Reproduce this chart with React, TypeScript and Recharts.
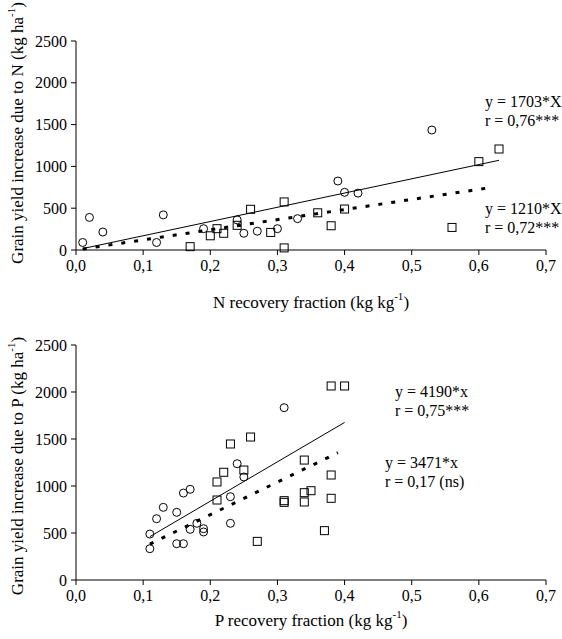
import React from 'react';
import { ScatterChart, Scatter, XAxis, YAxis, ReferenceLine } from 'recharts';

const FONT = '"Liberation Serif", "Times New Roman", serif';

// N panel
const nCircleX = [0.01, 0.02, 0.04, 0.12, 0.13, 0.19, 0.24, 0.25, 0.27, 0.30, 0.33, 0.39, 0.40, 0.42, 0.53];
const nCircleY = [90, 390, 215, 90, 420, 255, 360, 200, 225, 255, 375, 825, 690, 680, 1435];
const nSquareX = [0.17, 0.20, 0.21, 0.22, 0.24, 0.26, 0.29, 0.31, 0.31, 0.36, 0.38, 0.40, 0.56, 0.60, 0.63];
const nSquareY = [40, 170, 255, 200, 295, 487, 210, 575, 25, 445, 290, 490, 270, 1057, 1208];
const nSolidFit = [{ x: 0.01, y: 17 }, { x: 0.63, y: 1073 }];
const nDashFit = [{ x: 0.01, y: 12 }, { x: 0.62, y: 750 }];

// P panel
const pCircleX = [0.11, 0.11, 0.12, 0.13, 0.15, 0.15, 0.16, 0.16, 0.17, 0.17, 0.18, 0.19, 0.19, 0.23, 0.23, 0.24, 0.25, 0.31];
const pCircleY = [489, 333, 652, 773, 720, 386, 386, 925, 965, 539, 603, 546, 511, 886, 603, 1237, 1096, 1833];
const pSquareX = [0.21, 0.21, 0.22, 0.23, 0.25, 0.26, 0.27, 0.31, 0.31, 0.34, 0.34, 0.34, 0.35, 0.37, 0.38, 0.38, 0.38, 0.40];
const pSquareY = [1043, 851, 1146, 1447, 1170, 1521, 411, 844, 826, 1276, 929, 830, 950, 525, 1117, 869, 2064, 2064];
const pSolidFit = [{ x: 0.11, y: 461 }, { x: 0.40, y: 1676 }];
const pDashFit = [{ x: 0.11, y: 382 }, { x: 0.39, y: 1354 }];

const xTicks = [0, 0.1, 0.2, 0.3, 0.4, 0.5, 0.6, 0.7];
const yTicks = [0, 500, 1000, 1500, 2000, 2500];

const toPoints = (xs: number[], ys: number[]) => xs.map((x, i) => ({ x, y: ys[i] }));

const CircleMark = (p: any) => (
  <circle cx={p.cx} cy={p.cy} r={4} fill="none" stroke="#000" strokeWidth={1} />
);
const SquareMark = (p: any) => (
  <rect x={p.cx - 4} y={p.cy - 4} width={8} height={8} fill="none" stroke="#000" strokeWidth={1} />
);

const tickStyle = { fill: '#000', fontSize: 16, fontFamily: FONT };

interface PanelProps {
  nutrient: string;
  circles: { x: number; y: number }[];
  squares: { x: number; y: number }[];
  solid: { x: number; y: number }[];
  dashed: { x: number; y: number }[];
  height: number;
  top: number;
  plotHeight: number;
  titleGap: number;
  yTitleY: number;
}

function Panel({ nutrient, circles, squares, solid, dashed, height, top, plotHeight, titleGap, yTitleY }: PanelProps) {
  const yTitle = () => {
    const cx = 17;
    const cy = yTitleY;
    return (
      <text
        x={cx}
        y={cy}
        transform={`rotate(-90, ${cx}, ${cy})`}
        textAnchor="middle"
        dominantBaseline="central"
        fontSize={17}
        fontFamily={FONT}
        fill="#000"
      >
        Grain yield increase due to {nutrient} (kg ha<tspan baselineShift="super" fontSize={11}>-1</tspan>)
      </text>
    );
  };
  const xTitle = (props: any) => {
    const vb = props.viewBox;
    return (
      <text
        x={vb.x + vb.width / 2}
        y={vb.y + titleGap}
        textAnchor="middle"
        dominantBaseline="central"
        fontSize={17}
        fontFamily={FONT}
        fill="#000"
      >
        {nutrient} recovery fraction (kg kg<tspan baselineShift="super" fontSize={11}>-1</tspan>)
      </text>
    );
  };

  return (
    <ScatterChart width={562} height={height} margin={{ top, right: 16, bottom: 0, left: 0 }}>
      <XAxis
        type="number"
        dataKey="x"
        domain={[0, 0.7]}
        ticks={xTicks}
        tickFormatter={(v: number) => v.toFixed(1).replace('.', ',')}
        axisLine={{ stroke: '#000' }}
        tickLine={{ stroke: '#000' }}
        tickSize={5}
        tickMargin={5}
        tick={tickStyle}
        height={height - top - plotHeight}
        label={{ content: xTitle }}
      />
      <YAxis
        type="number"
        dataKey="y"
        domain={[0, 2500]}
        ticks={yTicks}
        axisLine={{ stroke: '#000' }}
        tickLine={{ stroke: '#000' }}
        tickSize={5}
        tickMargin={4}
        tick={tickStyle}
        width={76}
        label={{ content: yTitle }}
      />
      <ReferenceLine segment={solid} stroke="#000" strokeWidth={1} ifOverflow="visible" />
      <ReferenceLine segment={dashed} stroke="#000" strokeWidth={3} strokeDasharray="4 9" ifOverflow="visible" />
      <Scatter data={circles} shape={CircleMark} isAnimationActive={false} />
      <Scatter data={squares} shape={SquareMark} isAnimationActive={false} />
    </ScatterChart>
  );
}

const noteStyle: React.CSSProperties = {
  position: 'absolute',
  fontFamily: FONT,
  fontSize: 16,
  lineHeight: '19px',
  color: '#000',
  whiteSpace: 'nowrap',
};

export default function App() {
  return (
    <div style={{ position: 'absolute', left: 0, top: 0, width: 562, height: 639, background: '#fff', fontFamily: FONT }}>
      <div style={{ position: 'absolute', left: 0, top: 0 }}>
        <Panel
          nutrient="N"
          circles={toPoints(nCircleX, nCircleY)}
          squares={toPoints(nSquareX, nSquareY)}
          solid={nSolidFit}
          dashed={nDashFit}
          height={320}
          top={41}
          plotHeight={209}
          titleGap={52}
          yTitleY={133}
        />
      </div>
      <div style={{ position: 'absolute', left: 0, top: 320 }}>
        <Panel
          nutrient="P"
          circles={toPoints(pCircleX, pCircleY)}
          squares={toPoints(pSquareX, pSquareY)}
          solid={pSolidFit}
          dashed={pDashFit}
          height={319}
          top={25}
          plotHeight={235}
          titleGap={40}
          yTitleY={146}
        />
      </div>
      <div style={{ ...noteStyle, left: 485, top: 92 }}>y = 1703*X<br />r = 0,76***</div>
      <div style={{ ...noteStyle, left: 485, top: 199 }}>y = 1210*X<br />r = 0,72***</div>
      <div style={{ ...noteStyle, left: 395, top: 382 }}>y = 4190*x<br />r = 0,75***</div>
      <div style={{ ...noteStyle, left: 385, top: 453 }}>y = 3471*x<br />r = 0,17 (ns)</div>
    </div>
  );
}
